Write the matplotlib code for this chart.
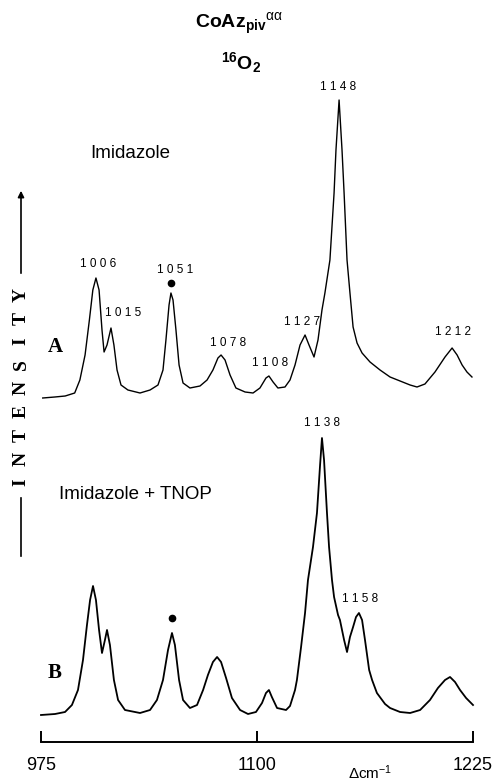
import matplotlib
matplotlib.use("Agg")
import matplotlib.pyplot as plt
import numpy as np

plt.rcParams["font.family"] = ["Liberation Sans", "DejaVu Sans"]
plt.rcParams["mathtext.fontset"] = "custom"
plt.rcParams["mathtext.rm"] = "Liberation Sans"
plt.rcParams["mathtext.it"] = "Liberation Sans:italic"
plt.rcParams["mathtext.bf"] = "Liberation Sans:bold"

# Raman shift (cm-1) and intensity above baseline (arb. units)
# A: Imidazole
wn_a = [976, 983, 989, 994.5, 997.5, 1000.5, 1003, 1005, 1006.8, 1008.6,
        1010.3, 1011.5, 1013.2, 1015.5, 1017.2, 1019, 1021.3, 1025.3, 1032.3, 1038.1,
        1042.7, 1045.6, 1047.3, 1049.1, 1050.2, 1051.4, 1053.1, 1054.9, 1057.2, 1061.2,
        1067, 1071.1, 1074.5, 1077.4, 1079.2, 1081.5, 1084.4, 1087.8, 1093.1, 1097.7,
        1101.7, 1105.2, 1106.9, 1109.3, 1112.1, 1116.2, 1119.1, 1122, 1124.9, 1127.8,
        1130.1, 1133, 1135.3, 1137.6, 1139.3, 1142.2, 1144.6, 1145.7, 1147.5, 1149.2,
        1150.4, 1152.1, 1153.8, 1155.6, 1157.9, 1160.8, 1165.4, 1171.2, 1177, 1182.8,
        1188.6, 1192.6, 1197.2, 1203, 1208.8, 1212.9, 1215.8, 1218.7, 1221.5, 1224.4]
int_a = [0, 1, 2, 5, 18, 43, 78, 108, 120, 108,
         68, 46, 53, 70, 53, 28, 13, 8, 5, 8,
         13, 28, 58, 93, 105, 98, 68, 33, 15, 10,
         12, 18, 28, 40, 43, 38, 23, 10, 6, 5,
         10, 20, 22, 16, 10, 11, 18, 33, 53, 63,
         53, 41, 58, 88, 105, 138, 205, 248, 298, 248,
         205, 138, 105, 71, 55, 45, 36, 28, 21, 17,
         13, 11, 14, 26, 41, 50, 43, 33, 26, 21]

# B: Imidazole + TNOP
wn_b = [975, 983.1, 988.9, 992.9, 996.4, 999.3, 1001.6, 1003.4, 1005.1, 1006.8,
        1008.6, 1010.3, 1012, 1013.2, 1014.9, 1017.2, 1019.6, 1023.6, 1032.3, 1038.1,
        1042.1, 1045.6, 1048.5, 1050.8, 1052.5, 1054.9, 1057.2, 1061.2, 1065.3, 1068.8,
        1071.6, 1074.5, 1076.9, 1079.2, 1082.1, 1085.5, 1090.2, 1094.8, 1099.4, 1102.9,
        1105.2, 1106.9, 1108.6, 1111.6, 1116.8, 1119.1, 1122, 1123.1, 1125.5, 1127.8,
        1129.5, 1132.4, 1134.7, 1136.5, 1137.6, 1138.8, 1140.5, 1141.7, 1143.4, 1144.6,
        1146.9, 1148, 1150.4, 1152.1, 1153.8, 1155.6, 1157.3, 1159, 1160.8, 1162.5,
        1164.9, 1166.6, 1169.4, 1174.1, 1177, 1182.8, 1188.6, 1194.4, 1200.1, 1204.7,
        1208.8, 1211.7, 1214.6, 1217.5, 1221, 1225]
int_b = [0, 1, 3, 10, 25, 55, 90, 115, 129, 115,
         85, 62, 75, 85, 70, 35, 15, 5, 2, 5,
         15, 35, 65, 82, 70, 35, 15, 7, 10, 25,
         40, 53, 58, 53, 37, 17, 5, 1, 3, 12,
         22, 25, 18, 7, 5, 9, 25, 35, 68, 102,
         135, 168, 202, 250, 277, 255, 202, 168, 135, 118,
         100, 95, 75, 63, 78, 88, 98, 102, 95, 75,
         45, 35, 22, 11, 7, 3, 2, 5, 15, 27,
         35, 38, 33, 25, 17, 10]

# peak labels: (text, position)
labels_a = [("1 0 0 6", 1006.8), ("1 0 1 5", 1015.5), ("1 0 5 1", 1050.2),
            ("1 0 7 8", 1079.2), ("1 1 0 8", 1106.9), ("1 1 2 7", 1127.8),
            ("1 1 4 8", 1147.5), ("1 2 1 2", 1212.9)]
labels_b = [("1 1 3 8", 1137.6), ("1 1 5 8", 1159)]
dot_a = 1050.2
dot_b = 1050.8

# layout (pixels)
W, H = 496, 784
OFF_A, OFF_B = 344, 27
lab_off_a = [(2, 14), (12, 15), (4, 23), (7, 12), (1, 13), (-3, 13), (-1, 13), (1, 16)]
lab_off_b = [(0, 15), (1, 14)]

fig = plt.figure(figsize=(W / 100, H / 100), dpi=100)
bg = fig.add_axes([0, 0, 1, 1])
bg.set_xlim(0, W)
bg.set_ylim(H, 0)
bg.axis("off")

ax = fig.add_axes([41 / W, 42 / H, 432 / W, 742 / H])
ax.patch.set_alpha(0)
ax.set_xlim(975, 1225)
ax.set_ylim(0, 742)
for s in ("left", "right", "top"):
    ax.spines[s].set_visible(False)
ax.spines["bottom"].set_linewidth(1.4)
ax.set_yticks([])
ax.set_xticks([975, 1100, 1225])
ax.set_xticklabels(["975", "1100", "1225"], fontsize=13)
ax.tick_params(axis="x", direction="in", length=8, width=1.4, pad=11)

ya = OFF_A + np.array(int_a)
yb = OFF_B + np.array(int_b)
ax.plot(wn_a, ya, color="black", lw=1.0, clip_on=False)
ax.plot(wn_b, yb, color="black", lw=1.3, clip_on=False)

pt = 72 / 100
for (txt, w), (dx, dy) in zip(labels_a, lab_off_a):
    ax.annotate(txt, (w, OFF_A + np.interp(w, wn_a, int_a)), xytext=(dx * pt, dy * pt),
                textcoords="offset points", ha="center", va="center", fontsize=8.5)
for (txt, w), (dx, dy) in zip(labels_b, lab_off_b):
    ax.annotate(txt, (w, OFF_B + np.interp(w, wn_b, int_b)), xytext=(dx * pt, dy * pt),
                textcoords="offset points", ha="center", va="center", fontsize=8.5)
ax.plot(dot_a, OFF_A + np.interp(dot_a, wn_a, int_a) + 10, "o", color="black", ms=4.5, clip_on=False)
ax.plot(dot_b, OFF_B + np.interp(dot_b, wn_b, int_b) + 15, "o", color="black", ms=4.5, clip_on=False)

# title
bg.text(239, 24, r"CoAz$_{\mathbf{piv}}$$^{\mathrm{αα}}$", ha="center", va="center",
        fontsize=14, fontweight="bold")
bg.text(241, 63, r"$^{\mathbf{16}}$O$_{\mathbf{2}}$", ha="center", va="center",
        fontsize=14, fontweight="bold")

bg.text(90, 153, "Imidazole", ha="left", va="center", fontsize=13.5)
bg.text(59, 494, "Imidazole + TNOP", ha="left", va="center", fontsize=13.5)

serif = ["Liberation Serif", "DejaVu Serif"]
bg.text(55, 347, "A", ha="center", va="center", fontsize=15, fontweight="bold", family=serif)
bg.text(55, 673, "B", ha="center", va="center", fontsize=15, fontweight="bold", family=serif)

# vertical INTENSITY label with arrow
for i, ch in enumerate("INTENSITY"):
    bg.text(21, 482 - i * 23.4, ch, rotation=90, ha="center", va="center",
            fontsize=14, fontweight="bold", family=serif)
bg.annotate("", xy=(21, 188), xytext=(21, 276),
            arrowprops=dict(arrowstyle="-|>", lw=1.2, color="black", mutation_scale=9))
bg.plot([21, 21], [498, 556], color="black", lw=1.2)

bg.text(370, 782, r"$\Delta$cm$^{-1}$", ha="center", va="bottom", fontsize=11)

fig.savefig("out.png", dpi=100)
